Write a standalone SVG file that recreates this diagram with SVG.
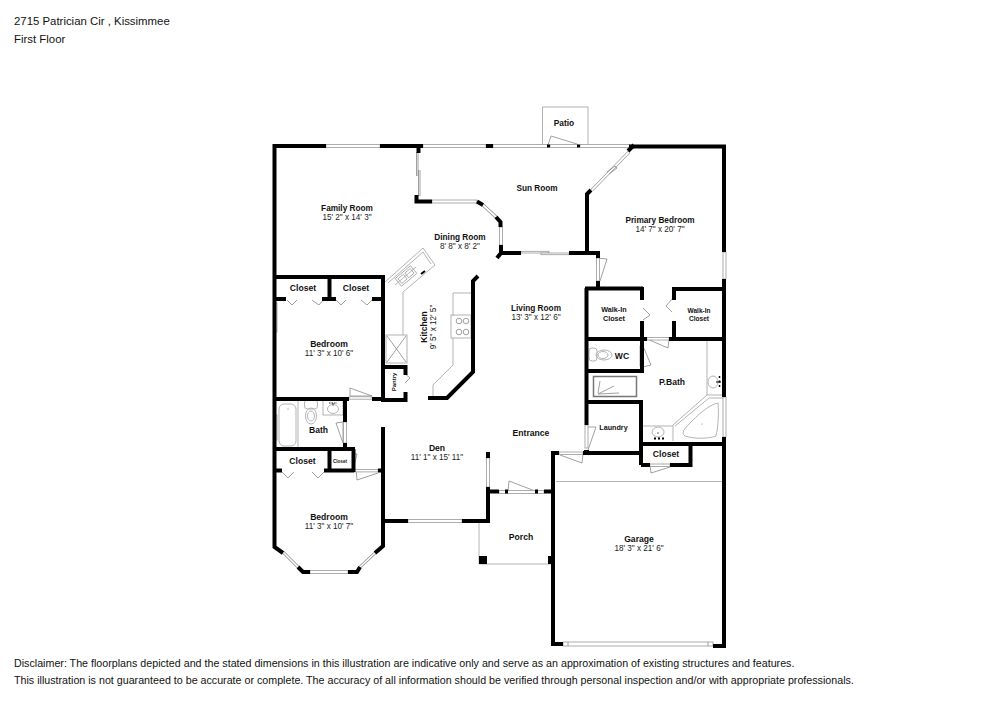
<svg xmlns="http://www.w3.org/2000/svg" width="1000" height="707" viewBox="0 0 1000 707">
<style>
.w{fill:none;stroke:#000;stroke-width:4;stroke-linecap:butt;stroke-linejoin:miter}
.t{fill:none;stroke:#000;stroke-width:3}
.g{fill:none;stroke:#aaa;stroke-width:.9}
.d{fill:none;stroke:#888;stroke-width:.8}
.win{fill:#fff;stroke:#999;stroke-width:.8}
.k{fill:#000}
text{font-family:"Liberation Sans",Arial,sans-serif;fill:#111;text-anchor:middle}
.h{font-size:11.4px;text-anchor:start}
.f{font-size:10.7px;text-anchor:start}
.n{font-size:8.6px;font-weight:bold}
.r{font-size:8.25px;font-weight:bold}
.m{font-size:8.15px;fill:#222}
.s{font-size:7.2px;font-weight:bold}
</style>
<rect width="1000" height="707" fill="#fff"/>
<text class="h" x="14" y="25">2715 Patrician Cir , Kissimmee</text>
<text class="h" x="14" y="43">First Floor</text>

<g id="fixtures">
<rect class="g" x="542.500" y="107" width="45.500" height="39"/>
<path class="d" d="M548 145L551 136L577 144"/>
<path class="d" d="M418 152V176M416.500 152V176M420 170V196M418.500 170V196"/>
<path class="d" d="M596 258L607 259L600 281"/>
<path class="g" d="M385 282L423 248L435 265L403 292V335M388 283L423 252L431 264M395 285L416 267"/>
<g transform="rotate(-40 406 276)"><rect class="g" x="396" y="271" width="20" height="10"/><rect class="g" x="398" y="273" width="7" height="6"/><rect class="g" x="407" y="273" width="7" height="6"/></g>
<path d="M421 274L425 271" stroke="#000" stroke-width="2"/>
<rect class="g" x="386" y="335" width="21" height="28"/><path class="d" d="M387 336L406 362M406 336L387 362"/>
<path class="g" d="M453 316V293H472M453 338V365L433 385V397"/>
<rect class="g" x="451" y="315" width="20" height="23"/>
<circle class="d" cx="459" cy="321" r="2.800"/><circle class="d" cx="466" cy="321" r="2.800"/><circle class="d" cx="459" cy="332" r="2.800"/><circle class="d" cx="466" cy="332" r="2.800"/>
<path class="d" d="M404 373L410 378L405 383"/>
<path class="d" d="M350 388L372 396H350Z"/>
<path class="d" d="M287 300L292 305L297 300M312 300L319 305L323 300M336 300L341 305L346 300M361 300L367 305L372 300"/>
<rect class="g" x="279" y="404" width="17" height="42" rx="5"/><path class="g" d="M298 400V447"/>
<circle cx="288" cy="409" r=".6" fill="#666"/>
<rect class="g" x="304.500" y="400" width="13" height="9" rx="3"/><ellipse class="g" cx="311" cy="416" rx="5.500" ry="8"/><ellipse class="g" cx="311" cy="416" rx="3.500" ry="5"/>
<rect class="g" x="323" y="400" width="20" height="15"/><ellipse class="g" cx="333" cy="409" rx="5.500" ry="4.500"/><path d="M329 403H337M333 403V406" stroke="#222" stroke-width="1.100" stroke-dasharray="1.500 1"/>
<path class="d" d="M336 423L343 422V443Z"/>
<path class="d" d="M354 454H357L354 466"/>
<path class="d" d="M282 472L288 478L294 472M312 472L318 478L324 472"/>
<path class="d" d="M356 469L357 480L378 473"/>
<path class="d" d="M672 299L666 306L672 312M643 308L650 315L643 320"/>
<path class="d" d="M647 339L668 348L669 339M643 346L651 365L643 367"/>
<rect class="g" x="589" y="348" width="8" height="13" rx="3"/><ellipse class="g" cx="604" cy="355" rx="8" ry="5"/><ellipse class="g" cx="603" cy="355" rx="5" ry="3.500"/>
<rect x="593.500" y="376.500" width="43" height="20" fill="#fff" stroke="#777" stroke-width="1.500"/><path class="d" d="M598 393L600 381M598 394L614 386M598 394L619 393"/>
<path class="g" d="M707 340V395H724M707 395L673 425V441M724 398H709L675 426M643 426H673"/>
<path class="g" d="M718 403C719 414 718 428 716 436C708 439 694 439 685 436C681 433 684 429 689 424C697 416 708 405 718 403Z"/>
<ellipse class="g" cx="713" cy="382" rx="5" ry="6"/><path d="M719.500 376V388" stroke="#000" stroke-width="1.500" stroke-dasharray="2 2.500"/><path d="M716 382H721" stroke="#000" stroke-width="1"/>
<ellipse class="g" cx="658" cy="432" rx="6" ry="5"/><path d="M654 438.500H664" stroke="#000" stroke-width="2" stroke-dasharray="2 2"/>
<circle cx="658" cy="433" r=".7" fill="#333"/><circle cx="702" cy="424" r=".5" fill="#666"/>
<path class="d" d="M587 427L596 427L588 450"/>
<path class="d" d="M560 455L582 463L583 454"/>
<path class="d" d="M650 465L651 473L670 467"/>
<path class="d" d="M508 492L509 481L535 491"/>
<path class="g" d="M556 481.500H723M479 521V564H552"/>
</g>

<g id="openings">
<rect class="win" x="326" y="144.500" width="54" height="3"/>
<rect class="win" x="423" y="144.500" width="63" height="3"/>
<rect class="win" x="493" y="144.500" width="55" height="3"/>
<rect class="win" x="550" y="144.500" width="28" height="3"/>
<rect class="win" x="580" y="144.500" width="50" height="3"/>
<rect class="win" x="432" y="200" width="45" height="3"/>
<path d="M483 205L496 217" stroke="#888" stroke-width="3.200"/><path d="M483 205L496 217" stroke="#fff" stroke-width="1.800"/>
<rect class="win" x="499.500" y="227" width="3" height="18"/>
<rect class="win" x="521" y="251.300" width="28" height="1.700"/><rect class="win" x="541" y="253" width="28" height="1.700"/>
<path d="M592 190L629 152" stroke="#888" stroke-width="3.200"/><path d="M592 190L629 152" stroke="#fff" stroke-width="1.800"/>
<path class="d" d="M607 172L615 166L617 168L609 174"/>
<rect class="win" x="596.500" y="258" width="3" height="23"/>
<rect class="win" x="723" y="252" width="3" height="27"/>
<rect class="win" x="723" y="397" width="3" height="40"/>
<rect class="win" x="274" y="303" width="3" height="29"/>
<rect class="win" x="274" y="415" width="3" height="25"/>
<rect class="win" x="349" y="396.800" width="23" height="2.400"/>
<rect class="win" x="343.500" y="422" width="3" height="21"/>
<rect class="win" x="354" y="469.500" width="24" height="2.400"/>
<rect class="win" x="408" y="519.500" width="54" height="3"/>
<rect class="win" x="310" y="570.500" width="38" height="3"/>
<path d="M298 567L283 552M360 567L375 553" stroke="#888" stroke-width="3"/><path d="M298 567L283 552M360 567L375 553" stroke="#fff" stroke-width="1.600"/>
<rect class="win" x="486.500" y="458" width="3" height="29"/>
<rect class="win" x="499" y="490.500" width="45" height="3"/>
<rect class="win" x="559" y="452" width="24" height="2.500"/>
<rect class="win" x="563" y="642" width="150" height="4"/><path class="d" d="M568 642V646M708 642V646"/>
<rect class="win" x="650" y="464" width="20" height="2.500"/>
<rect class="win" x="647" y="337.500" width="22" height="2.500"/>
<rect class="win" x="640" y="346" width="3" height="20"/>
<rect class="win" x="585" y="425" width="3" height="23"/>
</g>

<g id="walls">
<path class="w" d="M326 146H274.500V547L283 553M298 567L303 572H310M348 572H357L360 567M375 553L383 546V427M380 146H423"/>
<path class="w" d="M486 146H493M629 146.500H726M724 146V252M724 279V397M724 437V646H713M563 644H553V453H559M583 453H642"/>
<path class="w" d="M628 151L634 145" stroke-width="6"/>
<path class="w" d="M432 201.500H416.500V195"/><path class="w" d="M418.500 146V153" stroke-width="5"/>
<path class="w" d="M477 201.500L483 205M496 217L500.500 222V227M501 245V253L497 258M501 253H521M569 253H600M587 253V194L591 190M598 251V258M598 281V290"/>
<path class="w" d="M275 277H385M329.500 277V301M275 299H286M322 299H336M372 299H385M383 277V402M275 399H349M372 399H383"/>
<path class="w" d="M383 367H405.500V375M405.500 392V400H383" stroke-width="3.500"/>
<path class="w" d="M345 398V422M345 443V449M275 449H355M353.500 449V472M329.500 449V472M275 470.500H282M324 470.500H354M378 470.500H384"/>
<path class="w" d="M428 398H447L473 372V281L478 276"/>
<path class="w" d="M384 521H408M462 521H490M488 523V487M488 452V458M488 491.500H499M505 491.500H508M535 491.500H538M544 491.500H553"/>
<path class="w" d="M585 288.500H643M642 287V300M642 321V373M586.500 288V425M598 288V281M585 453H590M674 300V289H726M674 321V341M586 339H647M669 339H726M586 371H643"/>
<path class="w" d="M586 402H643M641 400V465M640 444H726M641 465H650M670 465H692M690.500 443V467"/>
<rect class="k" x="479" y="556" width="8" height="8"/>
<rect class="k" x="548" y="556" width="5" height="8"/>
<rect class="k" x="547" y="144.500" width="3" height="3"/>
<rect class="k" x="577" y="144.500" width="3" height="3"/>
<rect class="k" x="584" y="450" width="5" height="5"/>
</g>

<g id="labels">
<text class="n" x="564" y="126" style="font-size:8.4px">Patio</text>
<text class="r" x="347" y="211">Family Room</text><text class="m" x="347" y="220">15' 2" x 14' 3"</text>
<text class="r" x="460" y="240">Dining Room</text><text class="m" x="460" y="249">8' 8" x 8' 2"</text>
<text class="r" x="537" y="191">Sun Room</text>
<text class="r" x="660" y="223">Primary Bedroom</text><text class="m" x="660" y="232">14' 7" x 20' 7"</text>
<text class="r" x="536" y="311">Living Room</text><text class="m" x="536" y="320">13' 3" x 12' 6"</text>
<text class="n" x="303" y="291">Closet</text><text class="n" x="356" y="291">Closet</text>
<text class="n" x="329" y="347">Bedroom</text><text class="m" x="329" y="356">11' 3" x 10' 6"</text>
<text class="n" transform="translate(426.500 327) rotate(-90)">Kitchen</text><text class="m" transform="translate(435.500 327) rotate(-90)">9' 5" x 12' 5"</text>
<text class="s" transform="translate(396 382) rotate(-90)" style="font-size:6px">Pantry</text>
<text class="n" x="318.500" y="433">Bath</text>
<text class="n" x="437" y="451">Den</text><text class="m" x="437" y="460">11' 1" x 15' 11"</text>
<text class="n" x="531" y="436">Entrance</text>
<text class="n" x="302.500" y="464">Closet</text><text class="s" x="340" y="463" style="font-size:4.600px">Closet</text>
<text class="n" x="329" y="520">Bedroom</text><text class="m" x="329" y="529">11' 3" x 10' 7"</text>
<text class="n" x="521" y="540">Porch</text>
<text class="n" x="639" y="542">Garage</text><text class="m" x="639" y="551">18' 3" x 21' 6"</text>
<text class="s" x="614" y="312">Walk-In</text><text class="s" x="614" y="321">Closet</text>
<text class="s" x="699" y="313" style="font-size:6.500px">Walk-In</text><text class="s" x="699" y="321" style="font-size:6.500px">Closet</text>
<text class="n" x="622" y="359">WC</text>
<text class="n" x="672" y="385">P.Bath</text>
<text class="s" x="613.500" y="430">Laundry</text>
<text class="n" x="666" y="457">Closet</text>
</g>

<text class="f" x="14" y="667">Disclaimer: The floorplans depicted and the stated dimensions in this illustration are indicative only and serve as an approximation of existing structures and features.</text>
<text class="f" x="14" y="684">This illustration is not guaranteed to be accurate or complete. The accuracy of all information should be verified through personal inspection and/or with appropriate professionals.</text>
</svg>
